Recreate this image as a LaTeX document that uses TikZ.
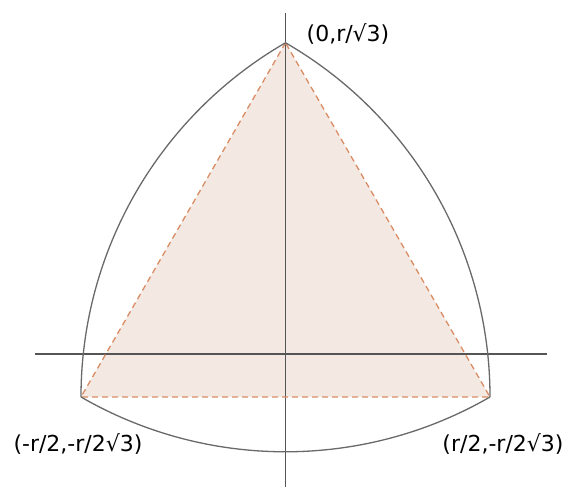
\documentclass[tikz,border=0pt]{standalone}
\usepackage{fontspec}
\setmainfont{DejaVu Sans}
\definecolor{fillc}{RGB}{243,233,226}
\definecolor{dashc}{RGB}{218,140,100}
\definecolor{arcc}{RGB}{105,105,105}
\definecolor{axisc}{RGB}{85,85,85}
\begin{document}
\begin{tikzpicture}[x=1pt,y=1pt,
  arcline/.style={draw=arcc,line width=1.3pt},
  axisline/.style={draw=axisc,line width=1.1pt},
  edge/.style={draw=dashc,line width=1.3pt,dash pattern=on 6pt off 4pt},
  lbl/.style={font=\fontsize{22}{26}\selectfont,text=black,inner sep=0pt}]
\useasboundingbox (0,0) rectangle (565,489);
\coordinate (A) at (285.5,446.2);
\coordinate (B) at (81,92);
\coordinate (C) at (490,92);
\fill[fillc] (A) -- (B) -- (C) -- cycle;
\draw[axisline] (35,135) coordinate (xl) -- (547,135) coordinate (xr);
\draw[axisline] (285.5,476) coordinate (yt) -- (285.5,2) coordinate (yb);
\draw[edge] (A) -- (B) -- (C) -- cycle;
\draw[arcline] (A) arc[start angle=60,end angle=0,radius=409];
\draw[arcline] (C) arc[start angle=-60,end angle=-120,radius=409];
\draw[arcline] (B) arc[start angle=180,end angle=120,radius=409];
\node[lbl] (la) at (348,455) {(0,r/√3)};
\node[lbl] (lb) at (78,45) {(-r/2,-r/2√3)};
\node[lbl] (lc) at (503,45) {(r/2,-r/2√3)};
\end{tikzpicture}
\end{document}
